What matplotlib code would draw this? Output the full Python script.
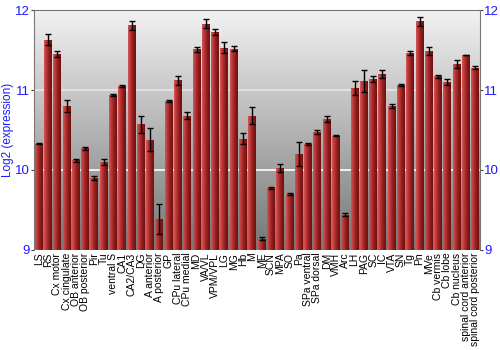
#! /usr/bin/env python3
import numpy as np
import matplotlib
matplotlib.use("Agg")
from matplotlib import pyplot as plt
from matplotlib.colors import LinearSegmentedColormap

regions = ["LS", "RS", "Cx motor", "Cx cingulate", "OB anterior", "OB posterior",
           "Pir", "Tu", "ventral S", "CA1", "CA2/CA3", "DG", "A anterior",
           "A posterior", "GP", "CPu lateral", "CPu medial", "MD", "VA/VL",
           "VPM/VPL", "LG", "MG", "Hb", "M", "ME", "SCN", "MPA", "SO", "Pa",
           "SPa ventral", "SPa dorsal", "DM", "VMH", "Arc", "LH", "PAG", "SC",
           "IC", "VTA", "SN", "Tg", "Pn", "MVe", "Cb vermis", "Cb lobe",
           "Cb nucleus", "spinal cord anterior", "spinal cord posterior"]

expression = [10.33, 11.63, 11.45, 10.80, 10.12, 10.27, 9.90, 10.10, 10.94,
              11.05, 11.81, 10.57, 10.38, 9.39, 10.86, 11.12, 10.68, 11.51,
              11.83, 11.73, 11.53, 11.52, 10.39, 10.68, 9.14, 9.775, 10.02,
              9.70, 10.20, 10.325, 10.475, 10.64, 10.43, 9.44, 11.025, 11.11,
              11.14, 11.20, 10.80, 11.06, 11.47, 11.86, 11.49, 11.17, 11.10,
              11.33, 11.44, 11.28]

sem = [0.01, 0.07, 0.04, 0.075, 0.015, 0.015, 0.03, 0.04, 0.01, 0.01, 0.06,
       0.11, 0.14, 0.19, 0.01, 0.06, 0.04, 0.035, 0.055, 0.04, 0.07, 0.03,
       0.07, 0.105, 0.02, 0.01, 0.05, 0.01, 0.145, 0.01, 0.02, 0.04, 0.005,
       0.02, 0.085, 0.14, 0.04, 0.05, 0.03, 0.01, 0.025, 0.06, 0.055, 0.02,
       0.04, 0.05, 0.005, 0.02]

yticks = [9, 10, 11, 12]
blue = "#1a1aff"

plt.rcParams["font.family"] = ["Liberation Sans", "DejaVu Sans"]

fig = plt.figure(figsize=(5, 3.5), dpi=100)
ax = fig.add_axes([0.068, 0.286, 0.892, 0.685])

x = np.arange(len(regions))
ax.set_xlim(-0.5, len(regions) - 0.5)
ax.set_ylim(9, 12)

# background gradient, light at top to dark grey at bottom
bg = LinearSegmentedColormap.from_list("bg", ["#767676", "#b4b4b4", "#f2f2f2"])
ax.imshow(np.linspace(0, 1, 256).reshape(-1, 1), cmap=bg, aspect="auto",
          extent=(-0.5, len(regions) - 0.5, 9, 12), origin="lower", zorder=0)

ax.axhline(10, color="white", lw=1.2, zorder=1)
ax.axhline(11, color="#e6e6e6", lw=1.2, zorder=1)

bars = ax.bar(x, [v - 9 for v in expression], bottom=9, width=0.86,
              color="none", edgecolor="none", zorder=2)
barmap = LinearSegmentedColormap.from_list("bar", ["#d25858", "#b83232", "#8a1c1c", "#701010"])
grad = np.linspace(0, 1, 64).reshape(1, -1)
for b in bars:
    bx, by = b.get_x(), b.get_y()
    im = ax.imshow(grad, cmap=barmap, aspect="auto", zorder=2,
                   extent=(bx, bx + b.get_width(), by, by + b.get_height()))
    im.set_clip_path(b)

ax.errorbar(x, expression, yerr=sem, fmt="none", ecolor="black", elinewidth=1,
            capsize=2, capthick=1, zorder=3)

ax.set_xticks(x)
ax.set_xticklabels(regions, rotation=90, fontsize=7.5)
ax.tick_params(axis="x", length=0, pad=2)

ax.set_yticks(yticks)
ax.tick_params(axis="y", colors="#444444", labelcolor=blue, labelsize=9.5,
               length=2, pad=1, right=True, labelright=True)
ax.set_ylabel("Log2 (expression)", color=blue, fontsize=8.5, labelpad=1)

for side in ["left", "right", "top"]:
    ax.spines[side].set_color("#777777")
ax.spines["bottom"].set_visible(False)

fig.savefig("out.png", dpi=100)
